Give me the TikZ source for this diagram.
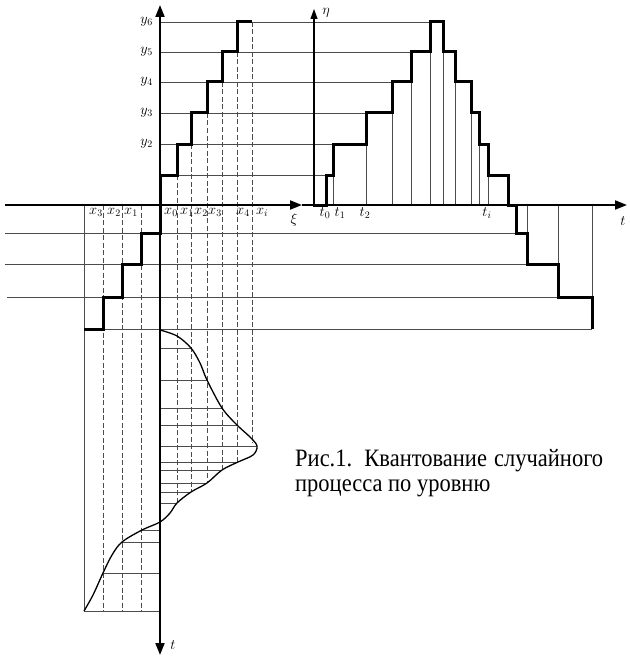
\documentclass[tikz,border=0pt]{standalone}
\usepackage{fontspec}
\setmainfont{Liberation Serif}
\newfontfamily\capfont[FakeStretch=0.9]{Liberation Serif}
\usetikzlibrary{arrows.meta}

\begin{document}
\begin{tikzpicture}[x=1pt, y=-1pt,
    >={Triangle[length=12pt, width=9pt]},
    every node/.style={font=\fontsize{14}{16}\selectfont, inner sep=0pt},
    caption/.style={anchor=base west, font=\capfont\fontsize{25}{28}\selectfont},
    thinln/.style={line width=0.9pt, black!70},
    dashln/.style={line width=0.9pt, black!70, dash pattern=on 5pt off 2.5pt},
    stair/.style={line width=3pt, line join=miter},
    axis/.style={line width=1.8pt}]
    \useasboundingbox (0,0) rectangle (629,658);

    % quantization levels
    \foreach \y/\x in {175/326, 144/333, 113/366, 82/392, 52/411, 22/430}
        \draw[thinln] (160,\y) -- (\x,\y);
    \foreach \y/\a/\b in {233/5/516, 264/5/527, 297/7/558, 329/84/592}
        \draw[thinln] (\a,\y) -- (\b,\y);
    \foreach \x/\y in {333/175, 366/144, 392/113, 411/82, 430/52, 443/52,
                       455/82, 471/113, 479/144, 488/175, 527/233, 558/264, 592/297}
        \draw[thinln] (\x,205) -- (\x,\y);
    \draw[thinln] (84,205) -- (84,611) -- (160,611);

    % projections
    \foreach \x/\a/\b in {177/175/503, 191/144/492, 207/113/483, 222/82/470, 237/52/462, 252/22/443}
        \draw[dashln] (\x,\a) -- (\x,\b);
    \foreach \x in {103,122,141}
        \draw[dashln] (\x,205) -- (\x,611);
    \foreach \y/\x in {348/191, 380/207, 408/222, 425/237, 446/257, 462/238,
                       470/222, 483/207, 492/191, 503/177, 530/142, 542/122, 573/103}
        \draw[thinln] (160,\y) -- (\x,\y);

    % realization
    \draw[line width=1.3pt] plot[smooth, tension=0.55] coordinates {(160,330) (177,336) (191,348)
        (200,363) (207,380) (222,408) (237,425) (250,437) (257,446) (253,455) (238,462) (222,470)
        (207,483) (191,492) (177,503) (170,513) (160,522) (142,530) (122,542) (112,555) (103,573)
        (93,595) (84,611)};

    % staircases
    \draw[stair] (160,205) -- (160,175) -- (177,175) -- (177,144) -- (191,144) -- (191,113)
        -- (207,113) -- (207,82) -- (222,82) -- (222,52) -- (237,52) -- (237,22) -- (252,22);
    \draw[stair] (160,205) -- (160,233) -- (141,233) -- (141,264) -- (122,264) -- (122,297)
        -- (103,297) -- (103,329) -- (84,329);
    \draw[stair] (313,205) -- (326,205) -- (326,175) -- (333,175) -- (333,144) -- (366,144)
        -- (366,113) -- (392,113) -- (392,82) -- (411,82) -- (411,52) -- (430,52) -- (430,22)
        -- (443,22) -- (443,52) -- (455,52) -- (455,82) -- (471,82) -- (471,113) -- (479,113)
        -- (479,144) -- (488,144) -- (488,175) -- (508,175) -- (508,205) -- (516,205)
        -- (516,233) -- (527,233) -- (527,264) -- (558,264) -- (558,297) -- (592,297) -- (592,329);

    % axes
    \draw[axis, ->] (5,205) -- (302,205);
    \draw[axis, ->] (302,205) -- (627,205);
    \draw[axis, <->] (160,655) -- (160,5);
    \draw[line width=1.1pt, -{Triangle[length=10pt, width=7pt]}] (314,205) -- (314,9);

    % labels
    \foreach \i/\y in {2/144, 3/113, 4/82, 5/52, 6/22}
        \node[anchor=east] (y\i) at (153,\y) {$y_\i$};
    \foreach \n/\i/\x in {xl3/3/96, xl2/2/114, xl1/1/131, xr0/0/171, xr1/1/187,
                          xr2/2/201, xr3/3/215, xr4/4/243, xri/i/262}
        \node (\n) at (\x,212) {$x_\i$};
    \foreach \n/\i/\x in {t0/0/325, t1/1/340, t2/2/365, ti/i/487}
        \node (\n) at (\x,213) {$t_\i$};
    \node (xi) at (294,220) {$\xi$};
    \node (eta) at (326,13) {$\eta$};
    \node (tr) at (623,221) {$t$};
    \node (tb) at (173,645) {$t$};

    \node[caption] (cap1) at (295,466) {\makebox[308pt][s]{Рис.1. Квантование случайного}};
    \node[caption] (cap2) at (295,491) {процесса по уровню};
\end{tikzpicture}
\end{document}
